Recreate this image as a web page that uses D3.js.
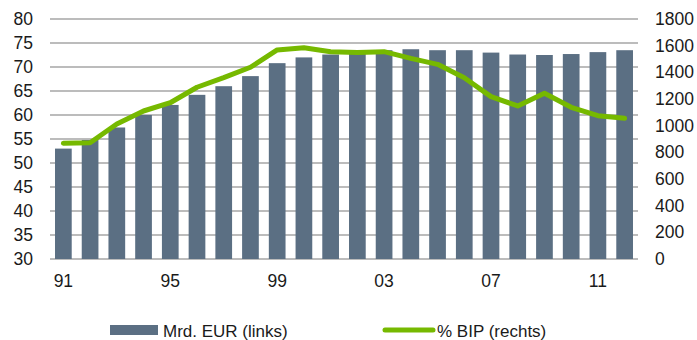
<!DOCTYPE html>
<html>
<head>
<meta charset="utf-8">
<script src="https://cdn.jsdelivr.net/npm/d3@7/dist/d3.min.js"></script>
<style>
  html, body { margin: 0; padding: 0; background: #fff; }
  svg { display: block; font-family: "Liberation Sans", Arial, sans-serif; }
</style>
</head>
<body>
<svg id="chart" width="697" height="340"></svg>
<script>
// Years 1991–2012
const years = [1991, 1992, 1993, 1994, 1995, 1996, 1997, 1998, 1999, 2000, 2001,
               2002, 2003, 2004, 2005, 2006, 2007, 2008, 2009, 2010, 2011, 2012];
// Bars, left axis
const barValues = [53.0, 54.8, 57.4, 60.0, 62.1, 64.2, 66.0, 68.1, 70.8, 72.0, 72.6,
                   73.2, 73.5, 73.7, 73.5, 73.5, 73.0, 72.6, 72.5, 72.7, 73.1, 73.5];
// Line, right axis
const lineValues = [868, 872, 1012, 1110, 1172, 1288, 1360, 1438, 1568, 1585, 1555,
                    1548, 1555, 1505, 1460, 1360, 1218, 1148, 1243, 1138, 1075, 1055];
const leftTicks = [30, 35, 40, 45, 50, 55, 60, 65, 70, 75, 80];
const rightTicks = [0, 200, 400, 600, 800, 1000, 1200, 1400, 1600, 1800];
const xTickYears = [1991, 1995, 1999, 2003, 2007, 2011];
const seriesNames = ["Mrd. EUR (links)", "% BIP (rechts)"];

const svg = d3.select("#chart");
const plot = { left: 50, right: 638, top: 19, bottom: 259 };

const x = d3.scaleBand().domain(years).range([plot.left, plot.right])
  .paddingInner(0.375).paddingOuter(0.1875);
const yL = d3.scaleLinear().domain([30, 80]).range([plot.bottom, plot.top]);
const yR = d3.scaleLinear().domain([0, 1800]).range([plot.bottom, plot.top]);

const textColor = "#1a1a1a";
const gridColor = "#a6a6a6";
const barColor = "#5b6f83";
const lineColor = "#76b900";
const fontFamily = "'Liberation Sans', Arial, sans-serif";
const tickFont = 17.5;

// Horizontal grid lines
svg.append("g")
  .selectAll("line")
  .data(leftTicks)
  .join("line")
  .attr("x1", plot.left).attr("x2", plot.right)
  .attr("y1", d => yL(d)).attr("y2", d => yL(d))
  .attr("stroke", gridColor).attr("stroke-width", 1.3);

// Bars
svg.append("g")
  .selectAll("rect")
  .data(years)
  .join("rect")
  .attr("x", d => x(d))
  .attr("width", x.bandwidth())
  .attr("y", (d, i) => yL(barValues[i]))
  .attr("height", (d, i) => yL(30) - yL(barValues[i]))
  .attr("fill", barColor);

// Line
const line = d3.line()
  .x((d, i) => x(years[i]) + x.bandwidth() / 2)
  .y(d => yR(d));
svg.append("path")
  .datum(lineValues)
  .attr("d", line)
  .attr("fill", "none")
  .attr("stroke", lineColor)
  .attr("stroke-width", 5)
  .attr("stroke-linecap", "round")
  .attr("stroke-linejoin", "round");

function styleAxis(g) {
  g.select(".domain").remove();
  g.selectAll("text").attr("font-size", tickFont).attr("fill", textColor).attr("font-family", fontFamily);
}

// Left axis
svg.append("g")
  .attr("transform", `translate(${plot.left},0)`)
  .call(d3.axisLeft(yL).tickValues(leftTicks).tickSize(0).tickPadding(17))
  .call(styleAxis);

// Right axis
svg.append("g")
  .attr("transform", `translate(${plot.right},0)`)
  .call(d3.axisRight(yR).tickValues(rightTicks).tickSize(0).tickPadding(17)
    .tickFormat(d3.format("d")))
  .call(styleAxis);

// Bottom axis
svg.append("g")
  .attr("transform", `translate(0,${plot.bottom})`)
  .call(d3.axisBottom(x).tickValues(xTickYears).tickSize(0).tickPadding(16)
    .tickFormat(d => String(d).slice(2)))
  .call(styleAxis);

// Legend
const lg = svg.append("g").attr("font-size", 17).attr("fill", textColor).attr("font-family", fontFamily);
lg.append("rect").attr("x", 110).attr("y", 325).attr("width", 48).attr("height", 10).attr("fill", barColor);
lg.append("text").attr("x", 163).attr("y", 336.5).text(seriesNames[0]);
lg.append("line").attr("x1", 385).attr("x2", 433).attr("y1", 330).attr("y2", 330)
  .attr("stroke", lineColor).attr("stroke-width", 5).attr("stroke-linecap", "round");
lg.append("text").attr("x", 437).attr("y", 336.5).text(seriesNames[1]);
</script>
</body>
</html>
